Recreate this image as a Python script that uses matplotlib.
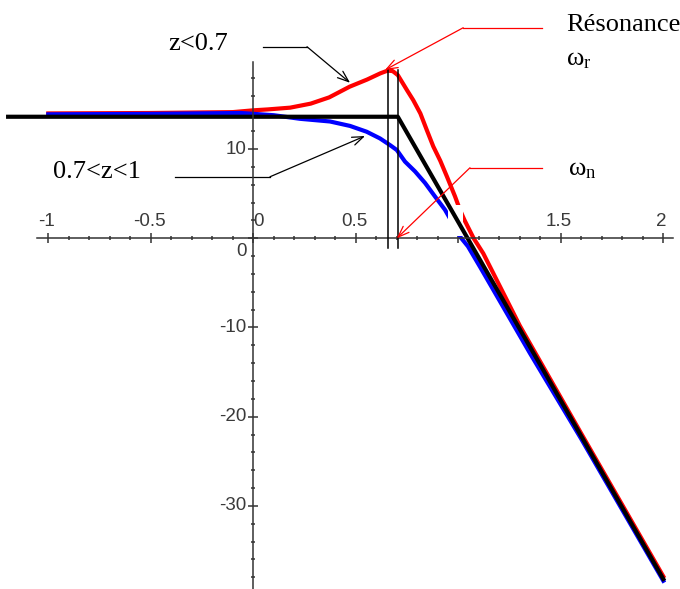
import numpy as np
import matplotlib
matplotlib.use("Agg")
import matplotlib.pyplot as plt
from matplotlib.patches import Rectangle

plt.rcParams['mathtext.fontset'] = 'custom'
plt.rcParams['mathtext.rm'] = 'Liberation Serif'
plt.rcParams['mathtext.it'] = 'Liberation Serif:italic'

# log10(w) -> gain (dB)
red_x = [-1.0, -0.5, -0.1, 0.0, 0.07, 0.18, 0.28, 0.37, 0.47, 0.555, 0.62, 0.655,
         0.68, 0.705, 0.75, 0.78, 0.815, 0.847, 0.878, 0.912, 0.945, 0.984, 1.008,
         1.03, 1.075, 1.122, 1.3, 1.6, 2.0]
red_y = [14.0, 14.05, 14.15, 14.35, 14.45, 14.65, 15.1, 15.8, 17.0, 17.8, 18.5, 18.8,
         18.75, 18.3, 16.6, 15.5, 14.0, 12.1, 10.3, 8.7, 6.9, 4.7, 3.2,
         2.05, 0.0, -1.7, -9.8, -21.9, -37.9]

blue_x = [-1.0, -0.5, -0.06, 0.1, 0.228, 0.374, 0.472, 0.553, 0.618, 0.667, 0.7,
          0.74, 0.789, 0.838, 0.886, 0.935, 0.96, 1.008, 1.047, 1.106, 1.35, 1.6, 2.0]
blue_y = [13.9, 13.95, 14.05, 13.8, 13.4, 13.1, 12.6, 11.95, 11.2, 10.45, 9.9,
          8.6, 7.5, 6.2, 4.7, 3.2, 2.2, 0.2, -0.9, -3.2, -12.9, -22.5, -38.4]

asym_x = [-1.196, 0.705, 2.0]
asym_y = [13.63, 13.63, -38.2]

w_r = 0.655
w_n = 0.705
peak = 18.88

xticks = [-1, -0.5, 0, 0.5, 1, 1.5, 2]
xlabels = ['-1', '-0.5', '0', '0.5', '1', '1.5', '2']
yticks = [-30, -20, -10, 0, 10]
ylabels = ['-30', '-20', '-10', '0', '10']

fig = plt.figure(figsize=(6.8, 5.89), dpi=100)
ax = fig.add_axes([0, 0, 1, 1])
ax.set_xlim(-1.2356, 2.0815)
ax.set_ylim(-39.32, 26.72)

for s in ['top', 'right']:
    ax.spines[s].set_visible(False)
ax.spines['left'].set_position(('data', 0))
ax.spines['bottom'].set_position(('data', 0))
ax.spines['bottom'].set_bounds(-1.055, 2.047)
ax.spines['left'].set_bounds(-39.4, 19.8)
for s in ['left', 'bottom']:
    ax.spines[s].set_color('#333333')
    ax.spines[s].set_linewidth(1.1)

ax.set_xticks(xticks)
ax.set_xticks(np.arange(-1, 2.01, 0.1), minor=True)
ax.set_yticks(yticks)
ax.set_yticks(np.arange(-38, 19, 2), minor=True)
ax.tick_params(which='both', direction='inout', color='#333333', width=1.1,
               labelbottom=False, labelleft=False)
ax.tick_params(which='major', length=7)
ax.tick_params(which='minor', length=3)

tickfont = dict(family='Liberation Sans', size=13.5, color='#3a3a3a')
for v, lab in zip(xticks, xlabels):
    if lab == '1':
        # label lost in the original: only its white box cuts the red/blue curves
        ax.add_patch(Rectangle((v - 0.048, 0.25), 0.07, 3.45, fc='white', ec='none', zorder=2.2))
        continue
    dx = 0.025 if v == 0 else -0.008
    ax.text(v + dx, 0.9, lab, ha='center', va='bottom', **tickfont)
for v, lab in zip(yticks, ylabels):
    dy = -1.45 if v == 0 else 0
    ax.text(-0.034, v + dy, lab, ha='right', va='center', **tickfont)

ax.plot(red_x, red_y, color='#ff0000', lw=3, zorder=2)
ax.plot(blue_x, blue_y, color='#0000ff', lw=3, zorder=2.1)
ax.plot(asym_x, asym_y, color='black', lw=3, zorder=2.5)

ax.plot([w_r, w_r], [-1.1, peak], color='black', lw=1.1, zorder=2.6)
ax.plot([w_n, w_n], [-1.1, peak], color='black', lw=1.1, zorder=2.6)

serif = dict(family='Liberation Serif', size=19, color='black')
arrow = '->,head_length=0.8,head_width=0.3'

ax.text(-0.413, 21.1, 'z<0.7', ha='left', va='baseline', **serif)
ax.plot([0.049, 0.262], [21.48, 21.48], color='black', lw=0.9)
ax.annotate('', xy=(0.472, 17.44), xytext=(0.262, 21.48),
            arrowprops=dict(arrowstyle=arrow, color='black', lw=0.9, shrinkA=0, shrinkB=0))

ax.text(-0.977, 6.74, '0.7<z<1', ha='left', va='baseline', **serif)
ax.plot([-0.382, 0.0815], [6.9, 6.9], color='black', lw=0.9)
ax.annotate('', xy=(0.545, 11.47), xytext=(0.0815, 6.9),
            arrowprops=dict(arrowstyle=arrow, color='black', lw=0.9, shrinkA=0, shrinkB=0))

ax.text(1.525, 23.24, 'Résonance', ha='left', va='baseline', **serif)
ax.text(1.525, 19.43, r'$\mathrm{\omega_r}$', ha='left', va='baseline', **serif)
ax.plot([1.407, 1.024], [23.61, 23.61], color='red', lw=0.9)
ax.annotate('', xy=(0.642, 18.87), xytext=(1.024, 23.61),
            arrowprops=dict(arrowstyle=arrow, color='red', lw=0.9, shrinkA=0, shrinkB=0))

ax.text(1.535, 7.1, r'$\mathrm{\omega_n}$', ha='left', va='baseline', **serif)
ax.plot([1.408, 1.057], [7.91, 7.91], color='red', lw=0.9)
ax.annotate('', xy=(0.7, 0.0), xytext=(1.057, 7.91),
            arrowprops=dict(arrowstyle=arrow, color='red', lw=0.9, shrinkA=0, shrinkB=0))

fig.savefig('out.png', dpi=100)
